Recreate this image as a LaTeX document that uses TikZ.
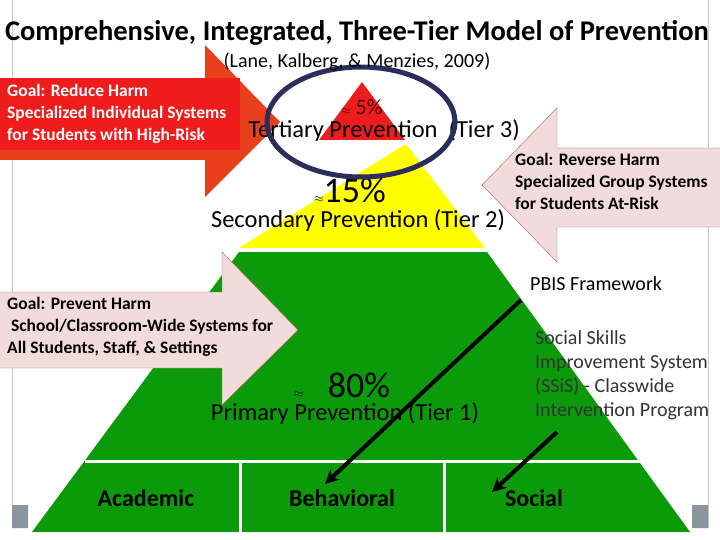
\documentclass[tikz,border=0pt]{standalone}
\usepackage{fontspec}
\setmainfont{Carlito}
\usetikzlibrary{arrows.meta}
\definecolor{tierred}{HTML}{EE1C1C}
\definecolor{tieryellow}{HTML}{FFFF00}
\definecolor{tiergreen}{HTML}{0A9A0A}
\definecolor{arrowred}{HTML}{E8401C}
\definecolor{goalpink}{HTML}{F2DCDB}
\definecolor{goalline}{HTML}{B0605A}
\definecolor{ringblue}{HTML}{2B2D5C}
\newcommand\approxmark{{\fontsize{13}{14}\selectfont$\approx$}}
\tikzset{goal/.style={align=left,anchor=north west,font=\fontsize{17.5}{22}\selectfont\bfseries,inner sep=0pt}}
\tikzset{tier/.style={font=\fontsize{24.5}{26}\selectfont}}
\tikzset{pct/.style={font=\fontsize{36}{38}\selectfont}}
\tikzset{cell/.style={font=\fontsize{24}{26}\selectfont\bfseries}}
\tikzset{note/.style={align=left,anchor=north west,font=\fontsize{20}{24}\selectfont,inner sep=0pt}}
\tikzset{pointer/.style={line width=4pt,-{Stealth[length=14pt,width=14pt]}}}
\begin{document}
\begin{tikzpicture}[x=1pt, y=-1pt]
	\useasboundingbox[fill=white] (0,0) rectangle (720,540);
	
	% frame
	\draw [gray!40] (12,0) -- (12,528) (708,0) -- (708,528);
	\fill [gray!60!cyan!30!gray] (12,505) rectangle (28,528) (692,505) rectangle (708,528);
	
	% tiers
	\fill [tierred] (362,82) -- (405,140) -- (319,140) -- cycle;
	\fill [tieryellow] (406,144) -- (485,248) -- (239,248) -- cycle;
	\fill [tiergreen] (239,252) -- (487,252) -- (690,532) -- (32,532) -- cycle;
	\draw [white, line width=3pt] (85,461) -- (640,461) (240,461) -- (240,534) (444,461) -- (444,534);
	
	% goal arrows
	\fill [arrowred] (0,85) -- (205,85) -- (205,45) -- (280,122) -- (205,197) -- (205,160) -- (0,160) -- cycle;
	\fill [tierred] (0,78) rectangle (240,150);
	\node [goal, text=white] (goal-3) at (7,84) {Goal: Reduce Harm\\Specialized Individual Systems\\for Students with High-Risk};
	
	\draw [goalline, fill=goalpink] (720,148) -- (557,148) -- (557,108) -- (482,185) -- (557,262) -- (557,227) -- (720,227);
	\node [goal] (goal-2) at (515,153) {Goal: Reverse Harm\\Specialized Group Systems\\for Students At-Risk};
	
	\draw [goalline, fill=goalpink] (0,292) -- (222,292) -- (222,252) -- (298,330) -- (222,405) -- (222,368) -- (0,368);
	\node [goal] (goal-1) at (7,297) {Goal: Prevent Harm\\\ School/Classroom-Wide Systems for\\All Students, Staff, \& Settings};
	
	% tier labels
	\node [tier] (tier-3) at (384,131) {Tertiary Prevention\ \ (Tier 3)};
	\node [font=\fontsize{22}{24}\selectfont, text=black!70!red] (pct-3) at (362,107) {\approxmark\ 5\%};
	\node [pct] (pct-2) at (350,190) {\approxmark15\%};
	\node [tier] (tier-2) at (358,221) {Secondary Prevention (Tier 2)};
	\node [pct] (pct-1) at (342,385) {\approxmark\ \ \ 80\%};
	\node [tier] (tier-1) at (345,414) {Primary Prevention (Tier 1)};
	
	% bottom cells
	\node [cell] (academic) at (146,498) {Academic};
	\node [cell] (behavioral) at (342,498) {Behavioral};
	\node [cell] (social) at (534,498) {Social};
	
	% ring
	\draw [ringblue, line width=5pt] (361,122) ellipse [x radius=94, y radius=55];
	
	% titles
	\node [font=\fontsize{28.5}{30}\selectfont\bfseries] (title) at (357,33) {Comprehensive, Integrated, Three-Tier Model of Prevention};
	\node [font=\fontsize{20}{22}\selectfont] (cite) at (357,62) {(Lane, Kalberg, \& Menzies, 2009)};
	
	% notes
	\node [note] (pbis) at (530,276) {PBIS Framework};
	\node [note, font=\fontsize{20}{24}\selectfont\color{black!80}] (ssis) at (535,330) {Social Skills\\Improvement System\\(SSiS) - Classwide\\Intervention Program};
	\coordinate (pbis-end) at (521,300);
	\coordinate (ssis-end) at (557,432);
	\draw [pointer] (pbis-end) -- (325,484);
	\draw [pointer] (ssis-end) -- (492,492);
\end{tikzpicture}
\end{document}
